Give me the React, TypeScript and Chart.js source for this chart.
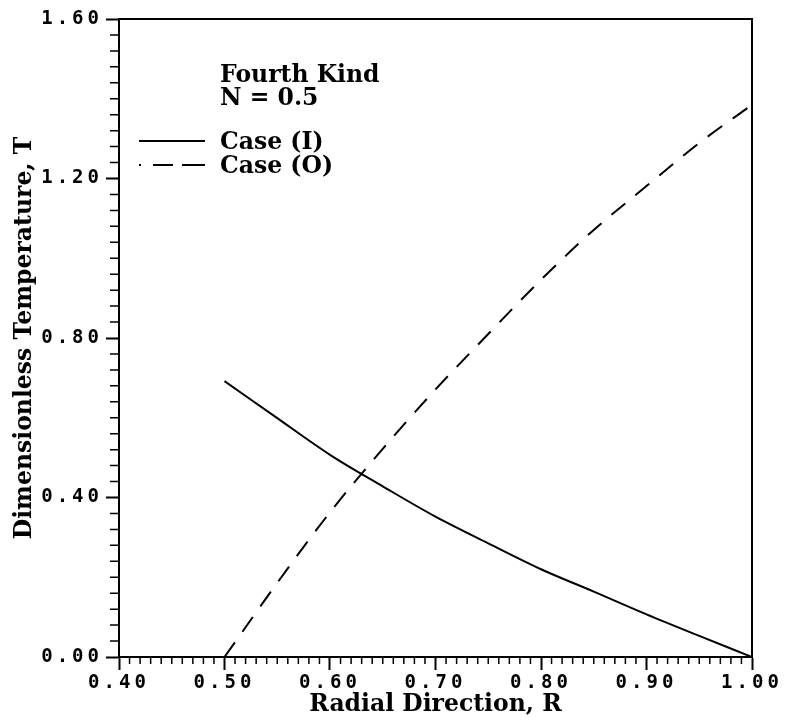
import React, { useEffect, useRef } from "react";
import { Chart, registerables } from "chart.js";

Chart.register(...registerables);

// ---- data ----
const R_VALUES = [0.5, 0.55, 0.6, 0.65, 0.7, 0.75, 0.8, 0.85, 0.9, 0.95, 1.0];
const CASE_I = [0.692, 0.599, 0.507, 0.428, 0.352, 0.285, 0.22, 0.164, 0.107, 0.053, 0.0];
const CASE_O = [0.0, 0.186, 0.363, 0.522, 0.671, 0.81, 0.946, 1.071, 1.181, 1.289, 1.385];
const SERIES_LABELS = ["Case (I)", "Case (O)"];
const NOTE_LINES = ["Fourth Kind", "N = 0.5"];
const X_TITLE = "Radial Direction, R";
const Y_TITLE = "Dimensionless Temperature, T";
const X_RANGE = [0.4, 1.0];
const Y_RANGE = [0.0, 1.6];
const X_MAJOR = 0.1;
const X_MINOR = 0.01;
const Y_MAJOR = 0.4;
const Y_MINOR = 0.04;

const SERIF = "'DejaVu Serif', serif";
const MONO = "'DejaVu Sans Mono', monospace";
const TEXT_SIZE = 23.5;

const decorPlugin = {
  id: "decor",
  beforeDraw(chart: any) {
    (chart.ctx as any).letterSpacing = "0px";
  },
  afterDatasetsDraw(chart: any) {
    (chart.ctx as any).letterSpacing = "4px";
  },
  afterDraw(chart: any) {
    const ctx = chart.ctx;
    const { left, right, top, bottom } = chart.chartArea;
    const xs = chart.scales.x;
    const ys = chart.scales.y;
    ctx.save();
    (ctx as any).letterSpacing = "0px";
    ctx.strokeStyle = "#000";
    ctx.lineWidth = 2;
    // top & right frame
    ctx.beginPath();
    ctx.moveTo(left, top);
    ctx.lineTo(right, top);
    ctx.lineTo(right, bottom);
    ctx.stroke();
    // minor ticks
    ctx.lineWidth = 1.5;
    ctx.beginPath();
    const nx = Math.round((X_RANGE[1] - X_RANGE[0]) / X_MINOR);
    const perX = Math.round(X_MAJOR / X_MINOR);
    for (let i = 0; i <= nx; i++) {
      if (i % perX === 0) continue;
      const px = xs.getPixelForValue(X_RANGE[0] + i * X_MINOR);
      ctx.moveTo(px, bottom);
      ctx.lineTo(px, bottom + 7);
    }
    const ny = Math.round((Y_RANGE[1] - Y_RANGE[0]) / Y_MINOR);
    const perY = Math.round(Y_MAJOR / Y_MINOR);
    for (let j = 0; j <= ny; j++) {
      if (j % perY === 0) continue;
      const py = ys.getPixelForValue(Y_RANGE[0] + j * Y_MINOR);
      ctx.moveTo(left - 9, py);
      ctx.lineTo(left, py);
    }
    ctx.stroke();

    // notes and legend
    ctx.fillStyle = "#000";
    ctx.font = `bold ${TEXT_SIZE}px ${SERIF}`;
    ctx.textBaseline = "alphabetic";
    ctx.textAlign = "left";
    const tx = left + 101;
    ctx.fillText(NOTE_LINES[0], tx, top + 63);
    ctx.fillText(NOTE_LINES[1], tx, top + 86);
    ctx.fillText(SERIES_LABELS[0], tx, top + 130);
    ctx.fillText(SERIES_LABELS[1], tx, top + 154);
    ctx.lineWidth = 2;
    ctx.beginPath();
    ctx.moveTo(left + 20, top + 122);
    ctx.lineTo(left + 86, top + 122);
    ctx.stroke();
    ctx.beginPath();
    ctx.moveTo(left + 20, top + 146);
    ctx.lineTo(left + 22, top + 146);
    ctx.moveTo(left + 34, top + 146);
    ctx.lineTo(left + 54, top + 146);
    ctx.moveTo(left + 63, top + 146);
    ctx.lineTo(left + 86, top + 146);
    ctx.stroke();
    ctx.restore();
  },
};

export default function App() {
  const ref = useRef<HTMLCanvasElement | null>(null);
  useEffect(() => {
    if (!ref.current) return;
    const chart = new Chart(ref.current, {
      type: "line",
      data: {
        datasets: [
          {
            label: SERIES_LABELS[0],
            data: R_VALUES.map((r, i) => ({ x: r, y: CASE_I[i] })),
            borderColor: "#000",
            borderWidth: 2,
            pointRadius: 0,
            cubicInterpolationMode: "monotone",
            fill: false,
          },
          {
            label: SERIES_LABELS[1],
            data: R_VALUES.map((r, i) => ({ x: r, y: CASE_O[i] })),
            borderColor: "#000",
            borderWidth: 2,
            borderDash: [18, 13],
            pointRadius: 0,
            cubicInterpolationMode: "monotone",
            fill: false,
          },
        ],
      },
      options: {
        animation: false,
        responsive: true,
        maintainAspectRatio: false,
        layout: { padding: { top: 19, right: 33, left: 0, bottom: 0 } },
        plugins: { legend: { display: false }, tooltip: { enabled: false } },
        scales: {
          x: {
            type: "linear",
            min: X_RANGE[0],
            max: X_RANGE[1],
            afterFit: (s: any) => {
              s.height = 65;
              s.paddingLeft = 0;
              s.paddingRight = 0;
            },
            border: { display: true, color: "#000", width: 2 },
            grid: {
              display: true,
              drawOnChartArea: false,
              drawTicks: true,
              tickLength: 13,
              tickWidth: 2,
              tickColor: "#000",
            },
            ticks: {
              stepSize: X_MAJOR,
              padding: 2,
              color: "#000",
              maxRotation: 0,
              autoSkip: false,
              z: 1,
              font: { family: MONO, size: 19, weight: "bold" },
              callback: (v: any) => Number(v).toFixed(2),
            },
            title: {
              display: true,
              text: X_TITLE,
              color: "#000",
              font: { family: SERIF, size: TEXT_SIZE, weight: "bold" },
              padding: { top: 0, bottom: 3 },
            },
          },
          y: {
            type: "linear",
            min: Y_RANGE[0],
            max: Y_RANGE[1],
            afterFit: (s: any) => {
              s.width = 119;
              s.paddingTop = 0;
              s.paddingBottom = 0;
            },
            border: { display: true, color: "#000", width: 2 },
            grid: {
              display: true,
              drawOnChartArea: false,
              drawTicks: true,
              tickLength: 13,
              tickWidth: 2,
              tickColor: "#000",
            },
            ticks: {
              stepSize: Y_MAJOR,
              padding: 3,
              color: "#000",
              autoSkip: false,
              z: 1,
              font: { family: MONO, size: 19, weight: "bold" },
              callback: (v: any) => Number(v).toFixed(2),
            },
            title: {
              display: true,
              text: Y_TITLE,
              color: "#000",
              font: { family: SERIF, size: TEXT_SIZE, weight: "bold" },
              padding: { top: 11, bottom: 0 },
            },
          },
        },
      },
      plugins: [decorPlugin],
    } as any);
    return () => chart.destroy();
  }, []);
  return (
    <div style={{ position: "absolute", left: 0, top: 0, width: 785, height: 722, background: "#fff" }}>
      <canvas ref={ref} />
    </div>
  );
}
